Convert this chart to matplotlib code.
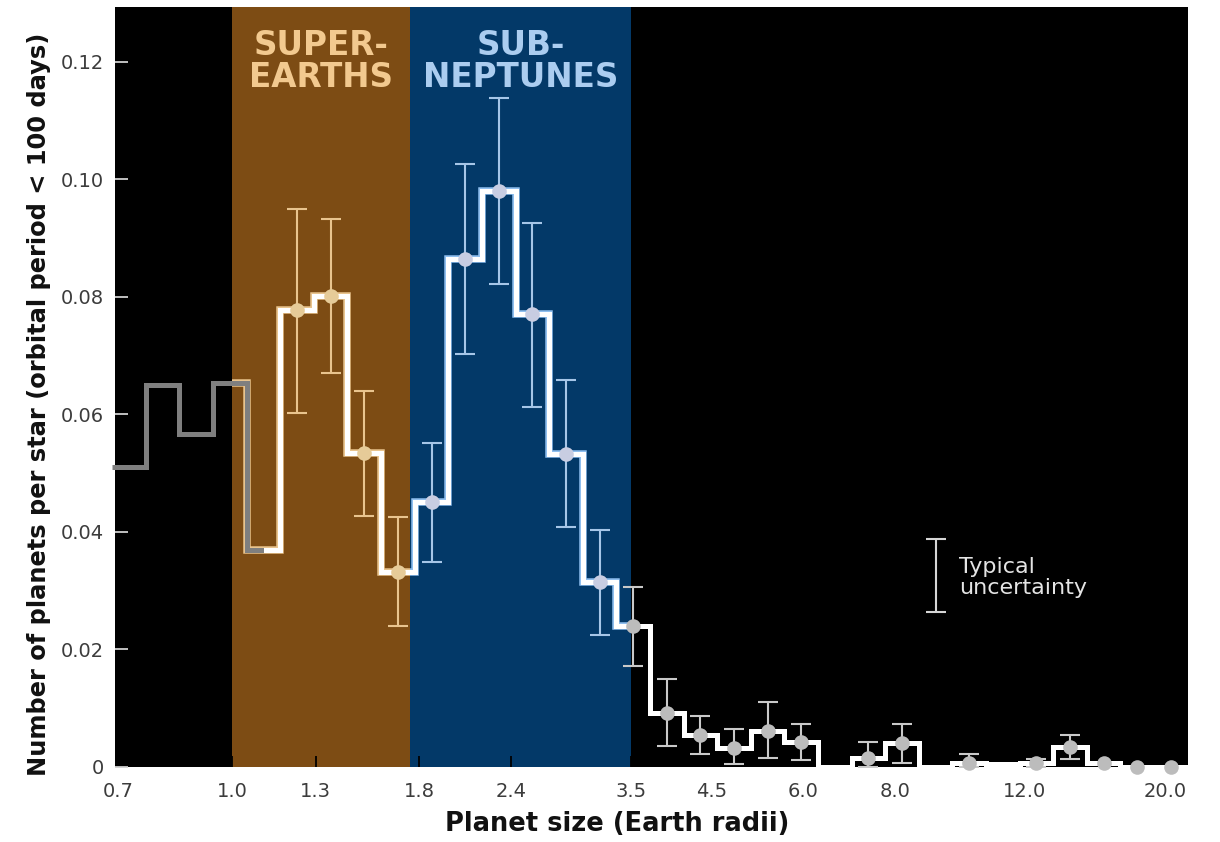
import numpy as np
import matplotlib
matplotlib.use("Agg")
import matplotlib.pyplot as plt
from matplotlib.patches import Rectangle
from matplotlib.ticker import NullLocator
from matplotlib import font_manager

# Planet-radius bins (Earth radii), log-spaced
bin_edges = [0.687, 0.763, 0.848, 0.943, 1.048, 1.164, 1.293, 1.437, 1.597,
             1.774, 1.972, 2.191, 2.435, 2.705, 3.006, 3.341, 3.712, 4.125,
             4.583, 5.093, 5.659, 6.288, 6.987, 7.765, 8.628, 9.585, 10.65,
             11.84, 13.15, 14.62, 16.24, 18.04, 20.05]

# Occurrence rate per bin (planets per star, P < 100 d)
rate = [0.0510, 0.0650, 0.0566, 0.0654, 0.0370, 0.0778, 0.0801, 0.0535,
        0.0332, 0.0450, 0.0865, 0.0980, 0.0770, 0.0533, 0.0315, 0.0240,
        0.0092, 0.0054, 0.0033, 0.0062, 0.0042, 0.0000, 0.0015, 0.0041,
        0.0000, 0.0007, 0.0005, 0.0007, 0.0034, 0.0007, 0.0000, 0.0000]

# Lower / upper ends of the error bars (nan = no bar)
nan = np.nan
err_low = [nan, nan, nan, nan, nan, 0.0603, 0.0671, 0.0427,
           0.0240, 0.0348, 0.0703, 0.0821, 0.0612, 0.0408, 0.0224, 0.0172,
           0.0036, 0.0022, 0.0005, 0.0015, 0.0012, nan, 0.0000, 0.0007,
           nan, 0.0000, nan, 0.0000, 0.0013, nan, nan, nan]
err_high = [nan, nan, nan, nan, nan, 0.0950, 0.0933, 0.0639,
            0.0425, 0.0551, 0.1026, 0.1138, 0.0926, 0.0658, 0.0404, 0.0306,
            0.0150, 0.0087, 0.0065, 0.0110, 0.0073, nan, 0.0043, 0.0073,
            nan, 0.0022, nan, 0.0014, 0.0054, nan, nan, nan]

# Which bins carry a marker
marked = [False] * 5 + [True] * 16 + [False, True, True, False, True, False,
                                       True, True, True, True, True]

# Size classes
super_earth_range = (1.0, 1.75)
sub_neptune_range = (1.75, 3.5)

# Typical uncertainty bar
typical_x = 9.10
typical_low, typical_high = 0.0264, 0.0388

xtick_vals = [0.7, 1.0, 1.3, 1.8, 2.4, 3.5, 4.5, 6.0, 8.0, 12.0, 20.0]
xtick_labels = ["0.7", "1.0", "1.3", "1.8", "2.4", "3.5", "4.5", "6.0",
                "8.0", "12.0", "20.0"]
ytick_vals = [0, 0.02, 0.04, 0.06, 0.08, 0.10, 0.12]
ytick_labels = ["0", "0.02", "0.04", "0.06", "0.08", "0.10", "0.12"]

BROWN = "#7d4c14"
BLUE = "#033968"
TAN = "#e9c48e"
TAN_PT = "#e6cb98"
LBLUE = "#a6c6e8"
LBLUE_PT = "#c8cde2"
GREY_BAR = "#c9c9c9"
GREY_PT = "#bcbcbc"


def have_font(name):
    try:
        font_manager.findfont(font_manager.FontProperties(family=name),
                              fallback_to_default=False)
        return True
    except Exception:
        return False


label_family = "Liberation Sans Narrow" if have_font("Liberation Sans Narrow") else "DejaVu Sans"

W, H = 1220, 842
fig = plt.figure(figsize=(W / 100, H / 100), dpi=100)
fig.patch.set_facecolor("white")
ax = fig.add_axes([115 / W, 1 - 767 / H, (1188 - 115) / W, (767 - 7) / H])
ax.set_facecolor("black")
ax.set_xscale("log")
ax.set_xlim(0.693, 20.07)
ax.set_ylim(0, 0.1293)
for s in ax.spines.values():
    s.set_visible(False)

ax.axvspan(*super_earth_range, color=BROWN, lw=0, zorder=0)
ax.axvspan(*sub_neptune_range, color=BLUE, lw=0, zorder=0)

edges = np.array(bin_edges)
vals = np.array(rate)
centers = np.sqrt(edges[:-1] * edges[1:])


def region_colors(x):
    if super_earth_range[0] <= x < super_earth_range[1]:
        return TAN, TAN_PT
    if sub_neptune_range[0] <= x < sub_neptune_range[1]:
        return LBLUE, LBLUE_PT
    return GREY_BAR, GREY_PT


# Error bars
for c, lo, hi, v in zip(centers, err_low, err_high, vals):
    if np.isnan(lo):
        continue
    bc, _ = region_colors(c)
    ax.errorbar([c], [v], yerr=[[v - lo], [hi - v]], fmt="none", ecolor=bc,
                elinewidth=1.5, capsize=7, capthick=1.5, zorder=2)

# Tinted halo under the step line inside each size class
for (x0, x1), halo in ((super_earth_range, TAN), (sub_neptune_range, "#8fbfef")):
    st = ax.stairs(vals, edges, baseline=None, color=halo, lw=5.4, zorder=3)
    clip = Rectangle((x0, -1), x1 - x0, 2, transform=ax.transData)
    st.set_clip_path(clip)

# Step histogram
ax.stairs(vals, edges, baseline=None, color="white", lw=3.6, zorder=3.1)
grey_part = ax.stairs(vals, edges, baseline=None, color="#7f7f7f", lw=3.6, zorder=3.2)
grey_clip = Rectangle((0.1, -1), centers[4] - 0.1, 2, transform=ax.transData)
grey_part.set_clip_path(grey_clip)

# Markers
for c, v, m in zip(centers, vals, marked):
    if not m:
        continue
    _, pc = region_colors(c)
    ax.plot([c], [v], "o", ms=10.5, color=pc, mec="none", zorder=4, clip_on=False)

# Typical uncertainty
tmid = (typical_low + typical_high) / 2
ax.errorbar([typical_x], [tmid], yerr=[[tmid - typical_low], [typical_high - tmid]],
            fmt="none", ecolor="#d6d6d6", elinewidth=1.5, capsize=7, capthick=1.5, zorder=2)
ax.text(9.80, 0.0322, "Typical\nuncertainty", color="#e4e4e4", fontsize=16,
        ha="left", va="center", linespacing=1.05)

# Size class titles
ax.text(np.sqrt(super_earth_range[0] * super_earth_range[1]), 0.1200, "SUPER-\nEARTHS",
        color="#f2c98f", fontsize=23.5, fontweight="bold", ha="center", va="center",
        linespacing=0.95)
ax.text(np.sqrt(sub_neptune_range[0] * sub_neptune_range[1]), 0.1200, "SUB-\nNEPTUNES",
        color="#abcdf0", fontsize=23.5, fontweight="bold", ha="center", va="center",
        linespacing=0.95)

# Ticks
ax.xaxis.set_minor_locator(NullLocator())
ax.set_xticks(xtick_vals)
ax.set_xticklabels(xtick_labels)
ax.set_yticks(ytick_vals)
ax.set_yticklabels(ytick_labels)
ax.tick_params(axis="both", direction="in", labelsize=14, labelcolor="#3c3c3c")
ax.tick_params(axis="y", length=9, width=1.3, color="#cfcfcf", pad=8)
ax.tick_params(axis="x", length=8, width=1.3, pad=11)
for tk, xv in zip(ax.xaxis.get_major_ticks(), xtick_vals):
    if super_earth_range[0] < xv < super_earth_range[1]:
        tk.tick1line.set_color(TAN)
    elif sub_neptune_range[0] < xv < sub_neptune_range[1]:
        tk.tick1line.set_color("#8fbde8")
    else:
        tk.tick1line.set_color("#dddddd")
ax.get_xticklabels()[-1].set_horizontalalignment("right")

# Axis titles
ylab = fig.text(39 / W, 1 - 404 / H, "Number of planets per star (orbital period < 100 days)",
                rotation=90, ha="center", va="center", fontweight="bold",
                family=label_family, fontsize=15, color="#111111")
xlab = fig.text(617 / W, 1 - 824 / H, "Planet size (Earth radii)", ha="center", va="center",
                fontweight="bold", fontsize=16, color="#111111")

fig.canvas.draw()
r = fig.canvas.get_renderer()
h = ylab.get_window_extent(r).height
ylab.set_fontsize(15 * 748 / h)
w = xlab.get_window_extent(r).width
xlab.set_fontsize(16 * 345 / w)

fig.savefig("out.png", dpi=100, facecolor="white")
